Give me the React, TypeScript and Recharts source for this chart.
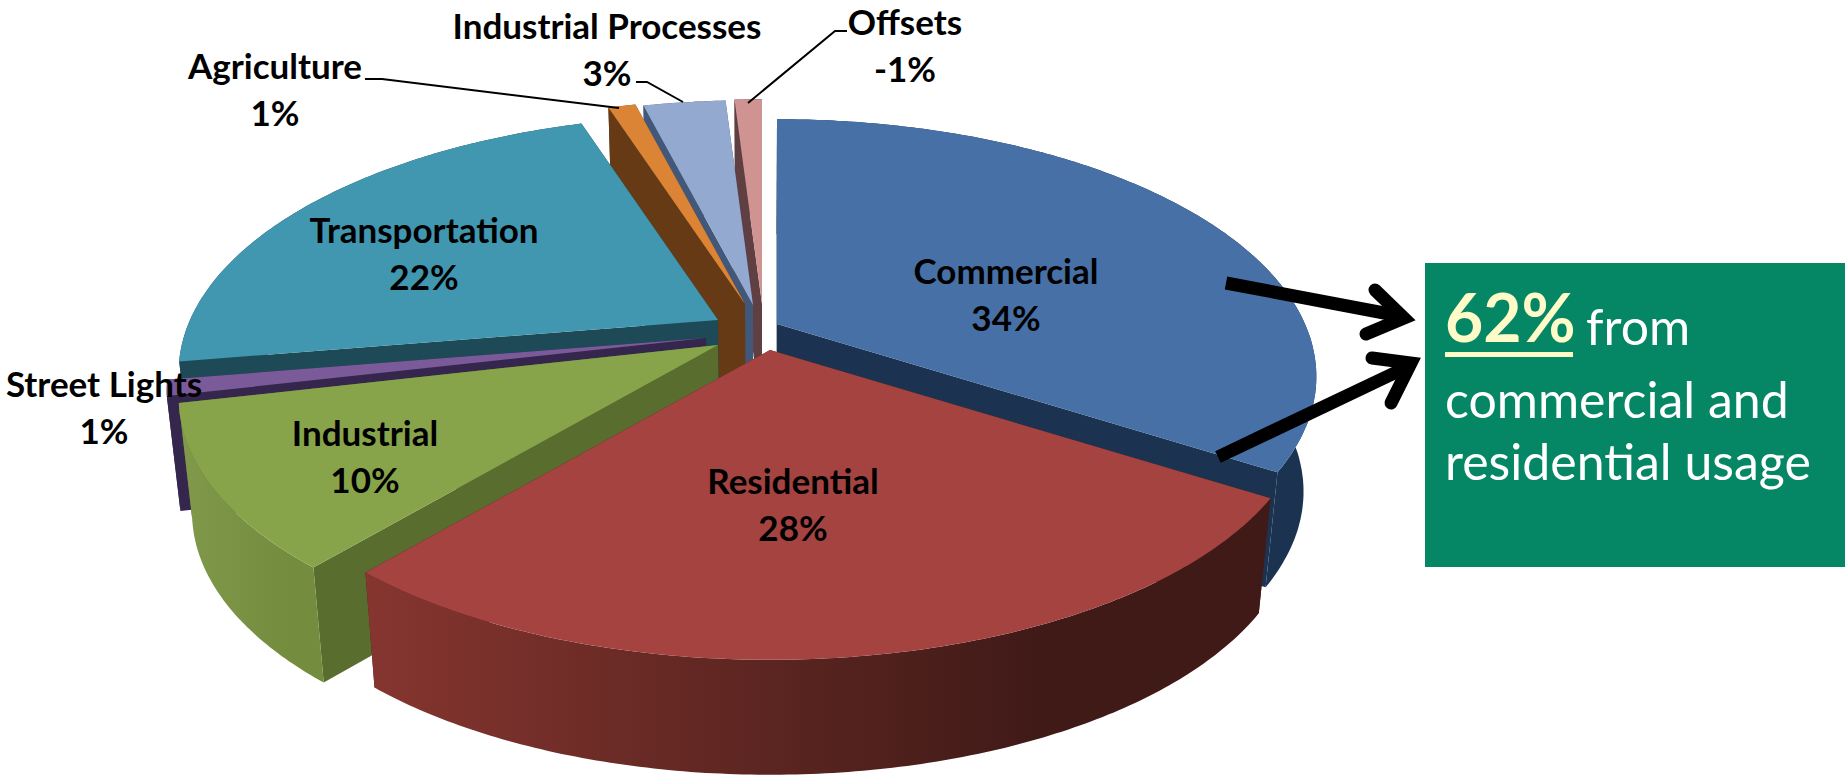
import { Cell, Pie, PieChart } from "recharts";

const categories = [
  "Commercial",
  "Residential",
  "Industrial",
  "Street Lights",
  "Transportation",
  "Agriculture",
  "Industrial Processes",
  "Offsets",
];
const shares = [34, 27.2, 10.2, 1, 22.6, 1, 3, 1];
const shareLabels = ["34%", "28%", "10%", "1%", "22%", "1%", "3%", "-1%"];

// colours per slice
const topColors = ["#4670a6", "#a54341", "#88a44b", "#7b5a99", "#4196b0", "#dc8435", "#93a9d0", "#cf9391"];
const cutColors = ["#1b3350", "#4a1c18", "#596d2f", "#35264e", "#1d4a56", "#653a15", "#42587a", "#5f3f42"];
const wallFrom = ["#1b3350", "#86352f", "#81994a", "#35264e", "#1d4a56", "#653a15", "#42587a", "#5f3f42"];
const wallTo = ["#1b3350", "#3f1a17", "#738c3e", "#35264e", "#1d4a56", "#653a15", "#42587a", "#5f3f42"];

// how far each slice is pulled out of the pie, on screen
const pullX = [17, 10, -42, -54, -42, -15, -7, 2];
const pullY = [-1, 25, 20, 13, -5, -21, -20, -21];

// side walls are painted from the back of the pie to the front
const wallOrder = [
  "Offsets",
  "Industrial Processes",
  "Agriculture",
  "Transportation",
  "Commercial",
  "Street Lights",
  "Industrial",
  "Residential",
];

const labelSpots = [
  [1006, 272],
  [793, 482],
  [365, 434],
  [104, 385],
  [424, 231],
  [275, 67],
  [607, 27],
  [905, 23],
];

const sliceRows = categories.map((name, i) => ({ name, value: shares[i] }));

const W = 1845;
const H = 778;
const CX = 760;
const CY = 325;
const RADIUS = 528;
const SQUASH = 0.467;
const PERSPECTIVE = 0.204;
const DEPTH = 115;
const BOTTOM_SCALE = 0.977;
const FONT = "Lato, 'Open Sans', sans-serif";

type Pt = [number, number];

function topPoint(i: number, theta: number, r = 1): Pt {
  const rad = (theta * Math.PI) / 180;
  const X = Math.sin(rad) * r;
  const Y = -Math.cos(rad) * r;
  const s = 1 / (1 - PERSPECTIVE * Y);
  return [CX + pullX[i] + RADIUS * X * s, CY + pullY[i] + RADIUS * SQUASH * Y * s];
}

function lowerPoint(p: Pt): Pt {
  return [CX + (p[0] - CX) * BOTTOM_SCALE, p[1] + DEPTH];
}

function toPath(points: Pt[]) {
  return "M" + points.map((p) => `${p[0].toFixed(1)},${p[1].toFixed(1)}`).join("L") + "Z";
}

function arcPoints(i: number, from: number, to: number) {
  const out: Pt[] = [];
  const steps = Math.max(2, Math.ceil((to - from) * 1.5));
  for (let k = 0; k <= steps; k++) {
    out.push(topPoint(i, from + ((to - from) * k) / steps));
  }
  return out;
}

function sliceAngles(props: any) {
  return { i: categories.indexOf(props.name), from: 90 - props.startAngle, to: 90 - props.endAngle };
}

function TopFace(props: any) {
  const { i, from, to } = sliceAngles(props);
  return <path d={toPath([topPoint(i, 0, 0), ...arcPoints(i, from, to)])} fill={props.fill} />;
}

function Walls(props: any) {
  const { i, from, to } = sliceAngles(props);
  const apex = topPoint(i, 0, 0);
  const arc = arcPoints(i, from, to);
  const cut = (edge: Pt) => toPath([apex, edge, lowerPoint(edge), lowerPoint(apex)]);
  return (
    <g>
      <path d={cut(arc[0])} fill={cutColors[i]} />
      <path d={cut(arc[arc.length - 1])} fill={cutColors[i]} />
      <path d={toPath([...arc, ...arc.map(lowerPoint).reverse()])} fill={`url(#wall-${i})`} />
    </g>
  );
}

const wallsOf = (only: string) => (props: any) => props.name === only ? <Walls {...props} /> : <g />;

const pieProps = {
  data: sliceRows,
  dataKey: "value",
  nameKey: "name",
  cx: CX,
  cy: CY,
  outerRadius: RADIUS,
  innerRadius: 0,
  startAngle: 90,
  endAngle: -270,
  stroke: "none",
  isAnimationActive: false,
  legendType: "none" as const,
};

function Callout() {
  return (
    <div
      style={{
        position: "absolute",
        left: 1425,
        top: 263,
        width: 420,
        height: 304,
        background: "#058665",
      }}
    />
  );
}

function Overlay() {
  const textStyle = { fontFamily: FONT, fontWeight: 700, fontSize: 35, fill: "#000" };
  return (
    <svg width={W} height={H} style={{ position: "absolute", left: 0, top: 0 }}>
      <g fill="none" stroke="#000" strokeWidth={2}>
        <polyline points="748,103 835,31 847,31" />
        <polyline points="683,102 647,82 636,82" />
        <polyline points="619,108 382,79 365,79" />
      </g>
      {categories.map((name, i) => (
        <text key={name} textAnchor="middle" style={textStyle}>
          <tspan x={labelSpots[i][0]} y={labelSpots[i][1] + 12}>
            {name}
          </tspan>
          <tspan x={labelSpots[i][0]} dy={47}>
            {shareLabels[i]}
          </tspan>
        </text>
      ))}
      <g fill="none" stroke="#000" strokeWidth={13} strokeLinecap="butt">
        <line x1={1226} y1={283} x2={1400} y2={316} />
        <line x1={1218} y1={457} x2={1405} y2={368} />
      </g>
      <g fill="none" stroke="#000" strokeWidth={13} strokeLinecap="round" strokeLinejoin="miter">
        <polyline points="1375,290 1404,318 1366,334" />
        <polyline points="1372,358 1411,363 1391,403" />
      </g>
      <text x={1445} y={342} style={{ fontFamily: FONT, fontWeight: 700, fontSize: 66, fill: "#fffbc8" }}>
        62%
      </text>
      <rect x={1445} y={352} width={128} height={5} fill="#fffbc8" />
      <g style={{ fontFamily: FONT, fontSize: 50, fill: "#fff" }}>
        <text x={1586} y={345}>from</text>
        <text x={1445} y={418}>commercial and</text>
        <text x={1445} y={480}>residential usage</text>
      </g>
    </svg>
  );
}

export default function App() {
  return (
    <div style={{ position: "absolute", left: 0, top: 0, width: W, height: H, background: "#fff", overflow: "hidden" }}>
      <PieChart width={W} height={H} margin={{ top: 0, right: 0, bottom: 0, left: 0 }}>
        <defs>
          {categories.map((name, i) => (
            <linearGradient key={name} id={`wall-${i}`} gradientUnits="objectBoundingBox" x1="0" y1="0" x2="1" y2="0">
              <stop offset="0%" stopColor={wallFrom[i]} />
              <stop offset="75%" stopColor={wallTo[i]} />
            </linearGradient>
          ))}
        </defs>
        {wallOrder.map((name) => (
          <Pie key={name} {...pieProps} shape={wallsOf(name)} />
        ))}
        <Pie {...pieProps} shape={TopFace}>
          {categories.map((name, i) => (
            <Cell key={name} fill={topColors[i]} />
          ))}
        </Pie>
      </PieChart>
      <Callout />
      <Overlay />
    </div>
  );
}
